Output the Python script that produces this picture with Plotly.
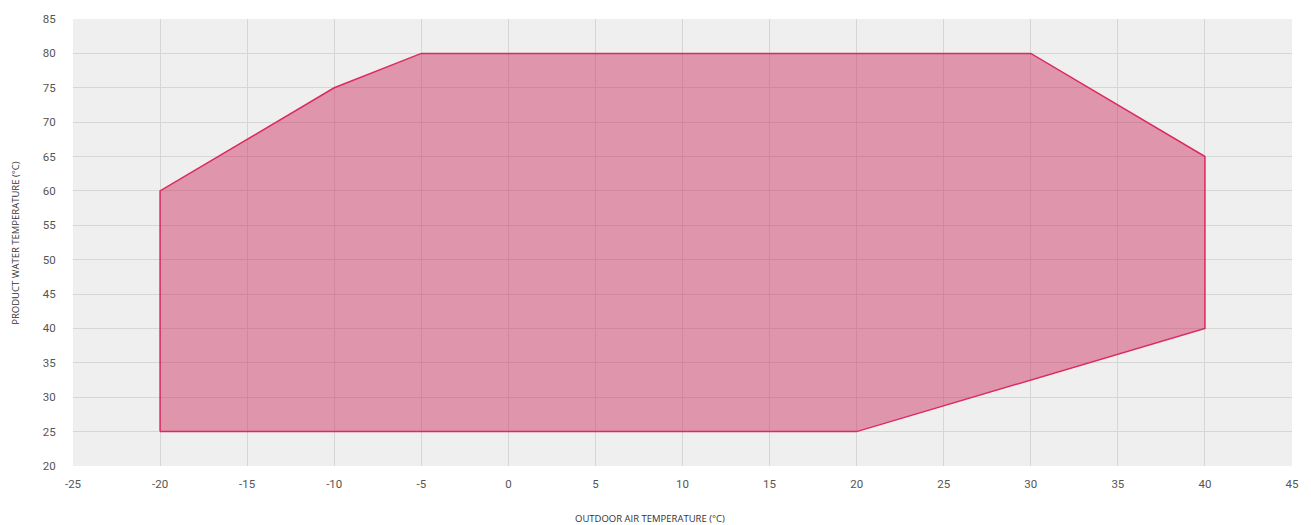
import plotly.graph_objects as go

# Operating envelope polygon (outdoor air temp °C, product water temp °C)
outdoor_temp = [-20, -20, -10, -5, 30, 40, 40, 20, -20]
water_temp = [25, 60, 75, 80, 80, 65, 40, 25, 25]

x_ticks = [-25, -20, -15, -10, -5, 0, 5, 10, 15, 20, 25, 30, 35, 40, 45]
y_ticks = [20, 25, 30, 35, 40, 45, 50, 55, 60, 65, 70, 75, 80, 85]

x_title = "OUTDOOR AIR TEMPERATURE (°C)"
y_title = "PRODUCT WATER TEMPERATURE (°C)"

fig = go.Figure()
fig.add_trace(go.Scatter(
    x=outdoor_temp, y=water_temp,
    mode="lines", fill="toself",
    fillcolor="rgba(202,30,80,0.43)",
    line=dict(color="#dc2a60", width=1.5),
    hoverinfo="skip", showlegend=False,
))

grid = "#d6d6d6"
tick_font = dict(family="Roboto", size=11.5, color="#555555")
title_font = dict(family="Open Sans", size=9.5, color="#333333")

W, H = 1311, 525
L, R, T, B = 73, 12, 14, 59
PW, PH = W - L - R, H - T - B

fig.update_layout(
    width=W, height=H,
    margin=dict(l=L, r=R, t=T, b=B),
    paper_bgcolor="white",
    plot_bgcolor="#efefef",
    showlegend=False,
    xaxis=dict(
        range=[-25, 45], tickvals=x_ticks, ticktext=[str(v) for v in x_ticks],
        showgrid=True, gridcolor=grid, gridwidth=1.3,
        zeroline=False, showline=False,
        ticks="outside", ticklen=7, tickcolor="rgba(0,0,0,0)",
        tickfont=tick_font,
    ),
    yaxis=dict(
        range=[20, 85], tickvals=y_ticks, ticktext=[str(v) for v in y_ticks],
        showgrid=True, gridcolor=grid, gridwidth=1.3,
        zeroline=False, showline=False,
        ticks="outside", ticklen=14, tickcolor="rgba(0,0,0,0)",
        tickfont=tick_font,
    ),
    annotations=[
        dict(text=x_title, xref="paper", yref="paper",
             x=(653 - L) / PW, y=-(519 - (H - B)) / PH, xanchor="center", yanchor="middle",
             showarrow=False, font=title_font),
        dict(text=y_title, xref="paper", yref="paper",
             x=(15 - L) / PW, y=((H - B) - 240) / PH, xanchor="center", yanchor="middle",
             textangle=-90, showarrow=False, font=title_font),
    ],
)

fig.write_html(
    "out.html",
    config={"displayModeBar": False},
    post_script="document.body.style.margin='0';document.body.style.overflow='hidden';",
)
